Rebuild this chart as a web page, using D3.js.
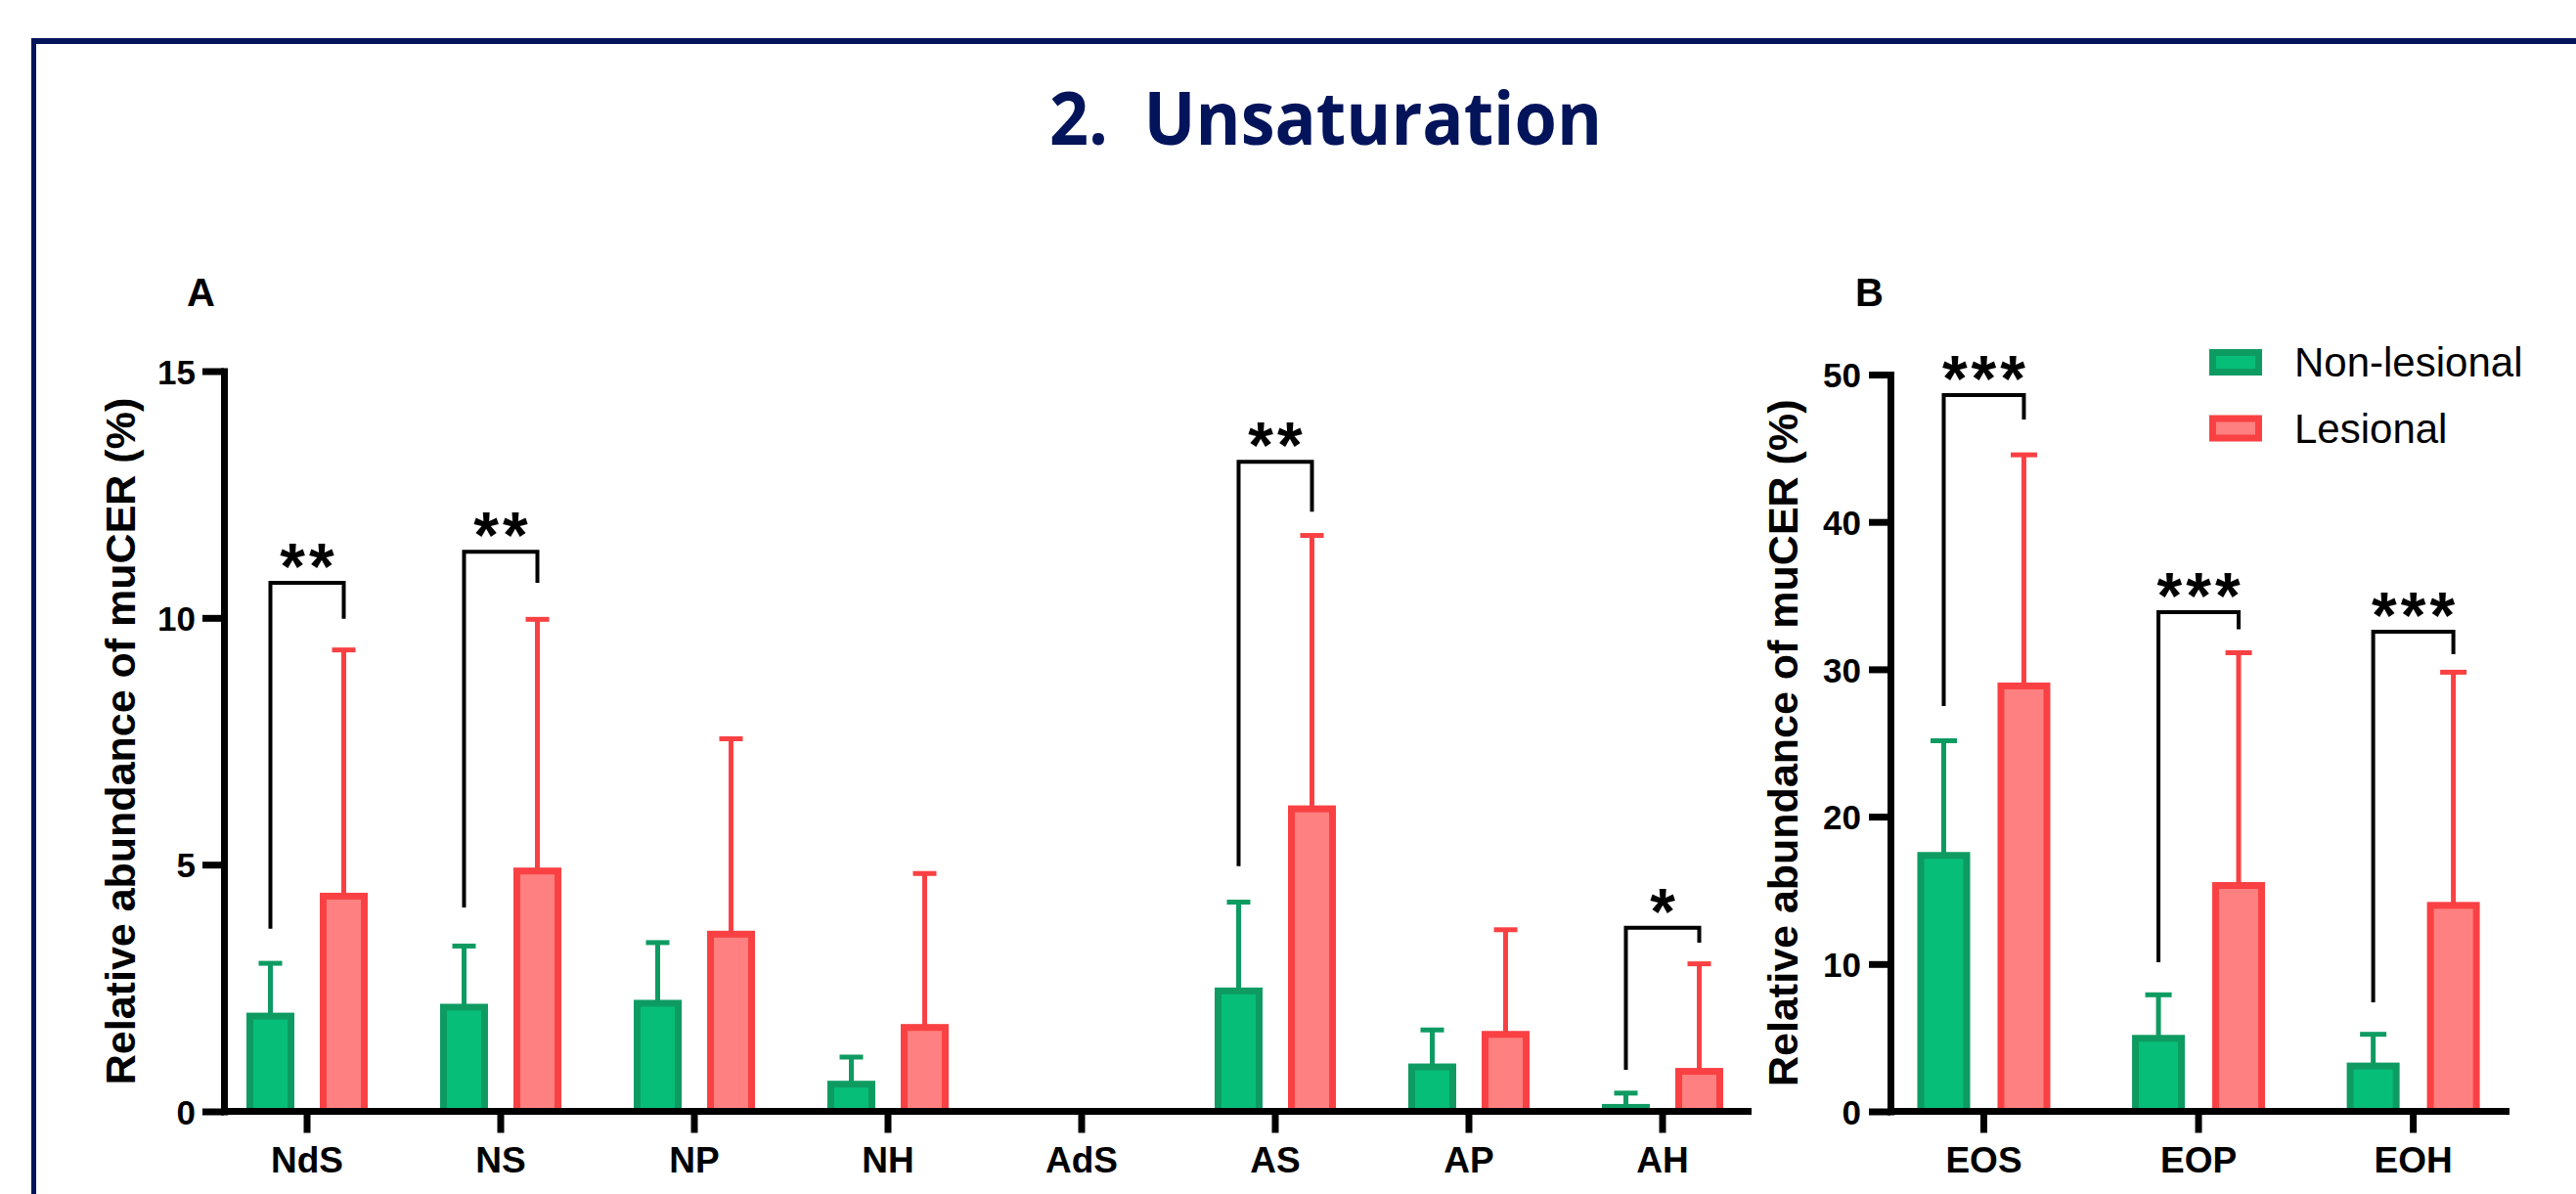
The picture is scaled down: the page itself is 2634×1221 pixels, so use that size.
<!DOCTYPE html>
<html>
<head>
<meta charset="utf-8">
<script src="https://cdn.jsdelivr.net/npm/d3@7"></script>
<style>
  html, body { margin: 0; padding: 0; background: #ffffff; }
  svg { display: block; }
  text { font-family: "Liberation Sans", Arial, sans-serif; }
</style>
</head>
<body>
<svg id="chart" width="2634" height="1221"></svg>
<script>
// ---------------- DATA ----------------
const groups = ["Non-lesional", "Lesional"];

// Panel A
const categoriesA = ["NdS", "NS", "NP", "NH", "AdS", "AS", "AP", "AH"];
const nonLesionalA = [2.00, 2.18, 2.26, 0.62, null, 2.51, 0.97, 0.15];
const nonLesionalUpperA = [3.00, 3.35, 3.42, 1.10, null, 4.24, 1.65, 0.37];
const lesionalA = [4.43, 4.94, 3.66, 1.77, null, 6.20, 1.63, 0.88];
const lesionalUpperA = [9.35, 9.97, 7.55, 4.82, null, 11.67, 3.68, 2.99];
const ticksA = [0, 5, 10, 15];
// significance brackets: category, left-leg bottom, bracket top, right-leg bottom, label
const sigCatsA = ["NdS", "NS", "AS", "AH"];
const sigLeftA = [3.70, 4.13, 4.97, 0.84];
const sigTopA = [10.71, 11.34, 13.16, 3.72];
const sigRightA = [9.98, 10.71, 12.15, 3.42];
const sigLabelA = ["**", "**", "**", "*"];

// Panel B
const categoriesB = ["EOS", "EOP", "EOH"];
const nonLesionalB = [17.6, 5.19, 3.31];
const nonLesionalUpperB = [25.15, 7.91, 5.23];
const lesionalB = [29.1, 15.56, 14.21];
const lesionalUpperB = [44.55, 31.12, 29.8];
const ticksB = [0, 10, 20, 30, 40, 50];
const sigCatsB = ["EOS", "EOP", "EOH"];
const sigLeftB = [27.5, 10.12, 7.4];
const sigTopB = [48.6, 33.88, 32.55];
const sigRightB = [46.95, 32.72, 31.02];
const sigLabelB = ["***", "***", "***"];

const titleText = "2.  Unsaturation";
const yLabel = "Relative abundance of muCER (%)";

// ---------------- STYLE ----------------
const fills = { "Non-lesional": "#07BE78", "Lesional": "#FF8080" };
const strokes = { "Non-lesional": "#0E9B62", "Lesional": "#F94144" };
const navy = "#03145A";

const svg = d3.select("#chart");

// frame
svg.append("rect").attr("x", 32).attr("y", 39).attr("width", 5).attr("height", 1182).attr("fill", navy);
svg.append("rect").attr("x", 32).attr("y", 39).attr("width", 2602).attr("height", 6).attr("fill", navy);

// title
svg.append("text")
  .attr("x", 1073).attr("y", 148)
  .attr("textLength", 565).attr("lengthAdjust", "spacingAndGlyphs")
  .style("font-family", "'Open Sans', 'Noto Sans', sans-serif")
  .style("font-weight", "700").style("font-size", "76px")
  .attr("fill", navy)
  .attr("xml:space", "preserve")
  .text(titleText);

function panel(cfg) {
  const g = svg.append("g");
  const y = d3.scaleLinear().domain(cfg.domain).range([1136.5, cfg.yTop]);
  const x = d3.scaleBand().domain(cfg.categories).range(cfg.xRange).padding(0);
  const xs = d3.scaleBand().domain(groups).range([-cfg.half, cfg.half]).paddingInner(cfg.inner);
  const center = c => x(c) + x.bandwidth() / 2;
  const sw = 7;

  // bars
  const rows = [];
  cfg.categories.forEach((c, i) => {
    [[groups[0], cfg.nl[i], cfg.nlU[i]], [groups[1], cfg.les[i], cfg.lesU[i]]].forEach(([grp, v, u]) => {
      if (v !== null) rows.push({ c, grp, v, u });
    });
  });

  // error bars (behind bars)
  const eb = g.append("g");
  rows.forEach(d => {
    const cx = center(d.c) + xs(d.grp) + xs.bandwidth() / 2;
    eb.append("line").attr("x1", cx).attr("x2", cx)
      .attr("y1", y(d.v) + 4).attr("y2", y(d.u))
      .attr("stroke", strokes[d.grp]).attr("stroke-width", 5);
    eb.append("line").attr("x1", cx - cfg.cap / 2).attr("x2", cx + cfg.cap / 2)
      .attr("y1", y(d.u)).attr("y2", y(d.u))
      .attr("stroke", strokes[d.grp]).attr("stroke-width", 5);
  });

  g.append("g").selectAll("rect").data(rows).join("rect")
    .attr("x", d => center(d.c) + xs(d.grp) + sw / 2)
    .attr("y", d => y(d.v) + sw / 2)
    .attr("width", xs.bandwidth() - sw)
    .attr("height", d => Math.max(0, y(0) - y(d.v) - sw / 2))
    .attr("fill", d => fills[d.grp])
    .attr("stroke", d => strokes[d.grp])
    .attr("stroke-width", sw);

  // y axis
  const ya = g.append("g").attr("transform", `translate(${cfg.axisX},0)`)
    .call(d3.axisLeft(y).tickValues(cfg.ticks).tickSize(22).tickSizeOuter(0).tickPadding(cfg.tickPad));
  ya.select(".domain").attr("stroke", "#000").attr("stroke-width", 7).attr("stroke-linecap", "square");
  ya.selectAll(".tick line").attr("stroke", "#000").attr("stroke-width", 7);
  ya.selectAll(".tick text").attr("fill", "#000")
    .style("font-size", "35px").style("font-weight", "700")
    .style("font-family", "'Liberation Sans', Arial, sans-serif")
    .attr("dy", "0.36em");

  // x axis
  const xa = g.append("g").attr("transform", "translate(0,1136.5)")
    .call(d3.axisBottom(x).tickSize(22).tickSizeOuter(0).tickPadding(14));
  xa.select(".domain").remove();
  xa.selectAll(".tick line").attr("stroke", "#000").attr("stroke-width", 7);
  xa.selectAll(".tick text").attr("fill", "#000")
    .style("font-size", "37px").style("font-weight", "700")
    .style("font-family", "'Liberation Sans', Arial, sans-serif");
  g.append("line").attr("x1", cfg.axisX).attr("x2", cfg.xEnd)
    .attr("y1", 1136.5).attr("y2", 1136.5)
    .attr("stroke", "#000").attr("stroke-width", 7);

  // y label
  g.append("text")
    .attr("transform", `translate(${cfg.labelX},${(y(cfg.domain[0]) + y(cfg.domain[1])) / 2}) rotate(-90)`)
    .attr("text-anchor", "middle")
    .style("font-size", "43px").style("font-weight", "700")
    .attr("fill", "#000")
    .text(yLabel);

  // panel letter
  g.append("text").attr("x", cfg.letterX).attr("y", 313)
    .style("font-size", "40px").style("font-weight", "700")
    .attr("fill", "#000").text(cfg.letter);

  // significance brackets
  cfg.sigCats.forEach((c, i) => {
    const lx = center(c) + xs(groups[0]) + xs.bandwidth() / 2;
    const rx = center(c) + xs(groups[1]) + xs.bandwidth() / 2;
    const p = d3.path();
    p.moveTo(lx, y(cfg.sigLeft[i]));
    p.lineTo(lx, y(cfg.sigTop[i]));
    p.lineTo(rx, y(cfg.sigTop[i]));
    p.lineTo(rx, y(cfg.sigRight[i]));
    g.append("path").attr("d", p.toString()).attr("fill", "none")
      .attr("stroke", "#000").attr("stroke-width", 4);
    g.append("text").attr("x", center(c) + 2).attr("y", y(cfg.sigTop[i]) + 6)
      .attr("text-anchor", "middle")
      .style("font-size", "66px").style("font-weight", "700")
      .style("letter-spacing", "4px")
      .attr("fill", "#000").text(cfg.sigLabel[i]);
  });
}

panel({
  categories: categoriesA, nl: nonLesionalA, nlU: nonLesionalUpperA,
  les: lesionalA, lesU: lesionalUpperA, ticks: ticksA, domain: [0, 15], yTop: 379.5,
  xRange: [215, 1799], half: 62, inner: 0.347, cap: 24,
  axisX: 229, xEnd: 1791, tickPad: 7, labelX: 138, letter: "A", letterX: 191,
  sigCats: sigCatsA, sigLeft: sigLeftA, sigTop: sigTopA, sigRight: sigRightA, sigLabel: sigLabelA
});

panel({
  categories: categoriesB, nl: nonLesionalB, nlU: nonLesionalUpperB,
  les: lesionalB, lesU: lesionalUpperB, ticks: ticksB, domain: [0, 50], yTop: 383,
  xRange: [1918.7, 2577.4], half: 68, inner: 0.341, cap: 27,
  axisX: 1933, xEnd: 2566, tickPad: 8, labelX: 1838, letter: "B", letterX: 1897,
  sigCats: sigCatsB, sigLeft: sigLeftB, sigTop: sigTopB, sigRight: sigRightB, sigLabel: sigLabelB
});

// legend
const legend = svg.append("g");
groups.forEach((grp, i) => {
  const ly = 357 + i * 67.5;
  legend.append("rect").attr("x", 2259 + 3.5).attr("y", ly + 3.5)
    .attr("width", 54 - 7).attr("height", 27 - 7)
    .attr("fill", fills[grp]).attr("stroke", strokes[grp]).attr("stroke-width", 7);
  legend.append("text").attr("x", 2346).attr("y", ly + 28)
    .style("font-size", "42px").attr("fill", "#000").text(grp);
});
</script>
</body>
</html>
